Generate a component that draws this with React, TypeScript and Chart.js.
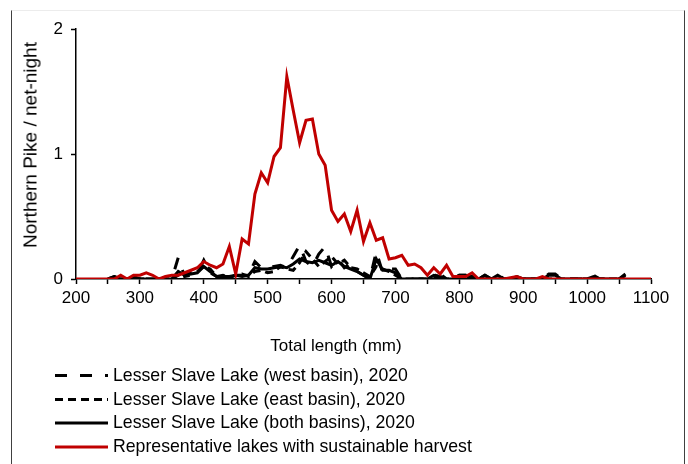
import React, { useEffect, useRef } from "react";
import { Chart, registerables } from "chart.js";

Chart.register(...registerables);

// Length bins (mm)
const lengths: number[] = [];
for (let v = 200; v <= 1100; v += 10) lengths.push(v);

// Representative lakes with sustainable harvest (200..1100 step 10)
const redValues: number[] = [
  0, 0, 0, 0, 0, 0, 0, 0.03, 0, 0.03,
  0.03, 0.05, 0.03, 0, 0.02, 0.03, 0.03, 0.05, 0.07, 0.09,
  0.14, 0.11, 0.09, 0.12, 0.26, 0.04, 0.32, 0.28, 0.68, 0.85,
  0.77, 0.98, 1.05, 1.62, 1.35, 1.09, 1.27, 1.28, 1.0, 0.91,
  0.55, 0.46, 0.52, 0.38, 0.55, 0.3, 0.45, 0.31, 0.33, 0.16,
  0.17, 0.19, 0.11, 0.12, 0.09, 0.03, 0.09, 0.04, 0.11, 0.02,
  0.02, 0.02, 0.05, 0, 0, 0, 0, 0, 0.01, 0.02,
  0, 0, 0, 0.02, 0, 0, 0, 0, 0, 0,
  0, 0, 0, 0, 0, 0, 0, 0, 0, 0,
  0,
];

// Lesser Slave Lake series (250..1060 step 10)
const lslStart = 250;
const westValues: number[] = [
  0, 0.02, 0, 0, 0, 0, 0, 0, 0, 0,
  0, 0.17, 0.02, 0.03, 0.04, 0.15, 0.05, 0.02, 0, 0.02,
  0.03, 0.02, 0.03, 0.14, 0.09, 0.09, 0.1, 0.11, 0.09, 0.18,
  0.27, 0.14, 0.1, 0.2, 0.26, 0.1, 0.16, 0.09, 0.12, 0.06,
  0.03, 0, 0.22, 0.05, 0.08, 0.08, 0, 0, 0, 0,
  0, 0.04, 0, 0, 0, 0.03, 0.03, 0, 0, 0.03,
  0, 0.04, 0, 0, 0.03, 0, 0, 0, 0, 0.04,
  0.04, 0, 0, 0, 0, 0, 0.03, 0, 0, 0,
  0, 0.04,
];
const eastValues: number[] = [
  0, 0, 0, 0, 0.02, 0, 0, 0, 0, 0,
  0, 0.03, 0.04, 0.05, 0.06, 0.1, 0.08, 0.02, 0.03, 0.01,
  0.03, 0.04, 0.02, 0.06, 0.07, 0.05, 0.06, 0.1, 0.08, 0.07,
  0.13, 0.22, 0.16, 0.1, 0.14, 0.18, 0.12, 0.15, 0.09, 0.08,
  0.05, 0.02, 0.1, 0.08, 0.06, 0.03, 0, 0, 0, 0,
  0, 0, 0.04, 0, 0, 0.02, 0.03, 0.02, 0, 0,
  0, 0, 0, 0, 0, 0, 0, 0, 0, 0,
  0, 0, 0, 0, 0, 0, 0, 0, 0, 0,
  0, 0,
];
const bothValues: number[] = [
  0, 0.02, 0, 0, 0.01, 0, 0, 0, 0, 0,
  0, 0.06, 0.03, 0.04, 0.05, 0.1, 0.06, 0.02, 0.02, 0.02,
  0.03, 0.03, 0.03, 0.09, 0.08, 0.08, 0.09, 0.1, 0.09, 0.12,
  0.16, 0.14, 0.13, 0.15, 0.13, 0.11, 0.14, 0.1, 0.08, 0.06,
  0.03, 0, 0.16, 0.07, 0.07, 0.05, 0, 0, 0, 0,
  0, 0.03, 0.02, 0, 0, 0.03, 0.03, 0.01, 0, 0.03,
  0, 0.03, 0, 0, 0.02, 0, 0, 0, 0, 0.03,
  0.03, 0, 0, 0, 0, 0, 0.02, 0, 0, 0,
  0, 0.03,
];

const xTickLabels = ["200", "300", "400", "500", "600", "700", "800", "900", "1000", "1100"];
const yTickLabels = ["0", "1", "2"];

const seriesNames = [
  "Lesser Slave Lake (west basin), 2020",
  "Lesser Slave Lake (east basin), 2020",
  "Lesser Slave Lake (both basins), 2020",
  "Representative lakes with sustainable harvest",
];

const RED = "#C00000";
const FONT = "'Liberation Sans', Arial, sans-serif";

function toPoints(vals: number[], start: number) {
  return vals.map((v, i) => ({ x: start + i * 10, y: v }));
}

export default function App() {
  const canvasRef = useRef<HTMLCanvasElement | null>(null);

  useEffect(() => {
    document.body.style.margin = "0";
    const ctx = canvasRef.current!.getContext("2d")!;
    const chart = new Chart(ctx, {
      type: "line",
      data: {
        datasets: [
          {
            label: seriesNames[3],
            data: toPoints(redValues, lengths[0]),
            borderColor: RED,
            borderWidth: 3,
            pointRadius: 0,
            tension: 0,
          },
          {
            label: seriesNames[0],
            data: toPoints(westValues, lslStart),
            borderColor: "#000",
            borderWidth: 3,
            borderDash: [12, 13],
            pointRadius: 0,
            tension: 0,
          },
          {
            label: seriesNames[1],
            data: toPoints(eastValues, lslStart),
            borderColor: "#000",
            borderWidth: 3,
            borderDash: [8, 5],
            pointRadius: 0,
            tension: 0,
          },
          {
            label: seriesNames[2],
            data: toPoints(bothValues, lslStart),
            borderColor: "#000",
            borderWidth: 3,
            pointRadius: 0,
            tension: 0,
          },
        ],
      },
      options: {
        animation: false,
        responsive: false,
        maintainAspectRatio: false,
        layout: { padding: { left: 12, top: 29, right: 37, bottom: 155 } },
        plugins: { legend: { display: false }, tooltip: { enabled: false } },
        scales: {
          x: {
            type: "linear",
            min: 200,
            max: 1100,
            afterFit: (s: any) => {
              s.height = 30;
            },
            ticks: {
              stepSize: 50,
              autoSkip: false,
              maxRotation: 0,
              padding: 4,
              color: "#000",
              font: { family: FONT, size: 17 },
              callback: (v: any) => {
                const i = xTickLabels.indexOf(String(v));
                return i >= 0 ? xTickLabels[i] : "";
              },
            },
            grid: { drawOnChartArea: false, drawTicks: true, tickLength: 5, tickColor: "#000", tickWidth: 1.5 },
            border: { color: "#000", width: 1.5 },
          },
          y: {
            min: 0,
            max: 2,
            afterFit: (s: any) => {
              s.width = 64;
            },
            ticks: {
              stepSize: 1,
              padding: 8,
              color: "#000",
              font: { family: FONT, size: 17 },
              callback: (v: any) => {
                const i = yTickLabels.indexOf(String(v));
                return i >= 0 ? yTickLabels[i] : "";
              },
            },
            grid: { drawOnChartArea: false, drawTicks: true, tickLength: 5, tickColor: "#000", tickWidth: 1.5 },
            border: { color: "#000", width: 1.5 },
          },
        },
      },
    });
    return () => chart.destroy();
  }, []);

  const legendRows = [
    { y: 375.5, dash: "12 13", color: "#000" },
    { y: 399.5, dash: "8 5", color: "#000" },
    { y: 423, dash: "", color: "#000" },
    { y: 447, dash: "", color: RED },
  ];

  return (
    <div style={{ position: "relative", width: 688, height: 464, overflow: "hidden", background: "#fff", fontFamily: FONT }}>
      <div
        style={{
          position: "absolute",
          left: 11,
          top: 10,
          width: 672,
          height: 470,
          borderLeft: "1px solid #404040",
          borderRight: "1px solid #404040",
          borderTop: "1px solid #ececec",
        }}
      />
      <canvas ref={canvasRef} width={688} height={464} style={{ position: "absolute", left: 0, top: 0 }} />
      <div
        style={{
          position: "absolute",
          left: 30,
          top: 145,
          transform: "translate(-50%, -50%) rotate(-90deg)",
          whiteSpace: "nowrap",
          fontSize: 19,
          color: "#000",
          lineHeight: 1,
        }}
      >
        Northern Pike / net-night
      </div>
      <div
        style={{
          position: "absolute",
          left: 336,
          top: 345,
          transform: "translate(-50%, -50%)",
          whiteSpace: "nowrap",
          fontSize: 17,
          color: "#000",
          lineHeight: 1,
        }}
      >
        Total length (mm)
      </div>
      <svg width={688} height={464} style={{ position: "absolute", left: 0, top: 0 }}>
        {legendRows.map((r, i) => (
          <line
            key={i}
            x1={55}
            x2={108}
            y1={r.y}
            y2={r.y}
            stroke={r.color}
            strokeWidth={3}
            strokeDasharray={r.dash || undefined}
          />
        ))}
      </svg>
      {legendRows.map((r, i) => (
        <div
          key={i}
          style={{
            position: "absolute",
            left: 113,
            top: r.y,
            transform: "translateY(-50%)",
            whiteSpace: "nowrap",
            fontSize: 17.7,
            color: "#000",
            lineHeight: 1,
          }}
        >
          {seriesNames[i]}
        </div>
      ))}
    </div>
  );
}
